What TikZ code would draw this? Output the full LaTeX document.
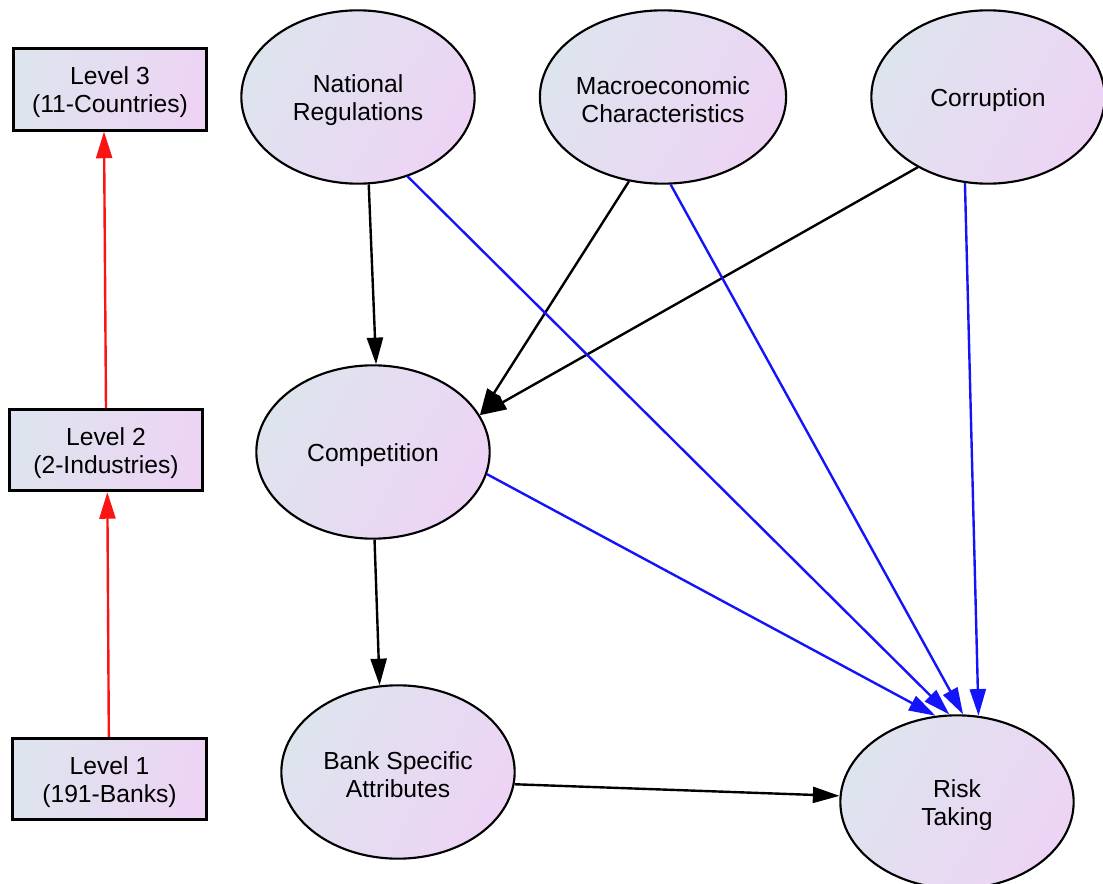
\documentclass[tikz,border=0pt]{standalone}
\usepackage{fontspec}
\setmainfont{Liberation Sans}
\usetikzlibrary{arrows.meta,shapes.geometric}
\definecolor{fillL}{RGB}{222,228,238}
\definecolor{fillR}{RGB}{237,212,244}
\definecolor{myblue}{RGB}{20,20,250}
\definecolor{myred}{RGB}{250,20,20}
\newcommand{\lowerstrut}{\rule{0pt}{18pt}}
\tikzset{
  lab/.style={font=\fontsize{18.5}{21}\selectfont, align=center, text=black},
  oval/.style={lab, ellipse, draw=black, line width=1.6pt, inner sep=0pt,
    minimum width=175pt, minimum height=130pt, top color=fillL, bottom color=fillR,
    shading angle=60},
  levelbox/.style={lab, rectangle, draw=black, line width=2.1pt, inner sep=0pt,
    minimum width=145pt, minimum height=61pt, top color=fillL, bottom color=fillR,
    shading angle=75},
  conn/.style={line width=1.8pt, -{Triangle[length=20pt,width=12pt]}},
  blk/.style={conn, draw=black},
  blu/.style={conn, draw=myblue},
  rd/.style={conn, draw=myred},
}
\begin{document}
\begin{tikzpicture}[x=0.75pt,y=-0.75pt]
\useasboundingbox (0,0) rectangle (1103,884);
\node[levelbox] (l3) at (110,89.5) {\lowerstrut Level 3\\(11-Countries)};
\node[levelbox] (l2) at (106,450) {\lowerstrut Level 2\\(2-Industries)};
\node[levelbox] (l1) at (109.5,779) {\lowerstrut Level 1\\(191-Banks)};
\node[oval] (nat) at (358,97) {\lowerstrut National\\Regulations};
\node[oval] (mac) at (663,97) {\lowerstrut Macroeconomic\\Characteristics};
\node[oval] (cor) at (988,97) {\lowerstrut Corruption};
\node[oval] (comp) at (373,452) {\lowerstrut Competition};
\node[oval] (bank) at (398,772) {\lowerstrut Bank Specific\\Attributes};
\node[oval] (risk) at (957,802) {\lowerstrut Risk\\Taking};
% red level arrows
\draw[rd] ([xshift=-0.5pt]l1.north) -- ([xshift=1pt]l2.south);
\draw[rd] ([xshift=0pt]l2.north) -- ([xshift=-4.5pt]l3.south);
% black arrows
\draw[blk] (nat.-83) -- (comp.88);
\draw[blk] (mac.-112) -- (comp.19);
\draw[blk] (cor.-135) -- (comp.19);
\draw[blk] (comp.-89) -- (bank.102);
\draw[blk] (bank.-6) -- (risk.177.6);
% blue arrows
\draw[blu] (comp.-11) -- (risk.104);
\draw[blu] (nat.-58) -- (risk.95);
\draw[blu] (mac.-85.5) -- (risk.86);
\draw[blu] (cor.-105) -- (risk.76);
\end{tikzpicture}
\end{document}
